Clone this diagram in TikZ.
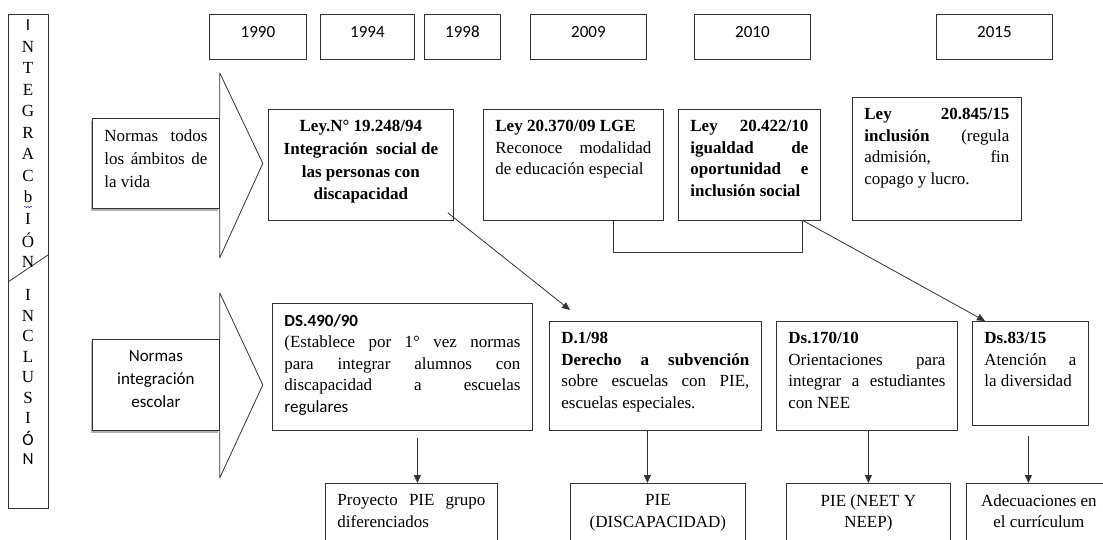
\documentclass[tikz,border=0pt]{standalone}
\usepackage{fontspec}
\setmainfont{Liberation Serif}
\newfontfamily\calfont{Carlito}
\usetikzlibrary{arrows.meta,calc,shadows,decorations.pathmorphing}
\tolerance=10000
\hbadness=10000
\newcommand{\caja}[3]{\parbox[c][#2pt][t]{#1pt}{#3}}
\tikzset{
  cuadro/.style={draw=black!80, line width=0.8pt, fill=white, anchor=north west, inner xsep=12pt, inner ysep=11pt},
  anio/.style={cuadro, inner xsep=0pt},
  sombra/.style={drop shadow={shadow xshift=-1pt,shadow yshift=-2.5pt,fill=black!60}},
  flecha/.style={draw=black!80, line width=0.8pt, -{Triangle[length=8pt,width=7pt]}},
  linea/.style={draw=black!80, line width=0.8pt, line join=round},
  letra/.style={inner sep=0pt},
}
\begin{document}
\begin{tikzpicture}[x=1pt, y=-1pt, font=\fontsize{17}{21.5}\selectfont]
\useasboundingbox (0,0) rectangle (1103,540);
\clip (0,0) rectangle (1103,540);
% barra lateral
\node[cuadro, inner sep=0pt, minimum width=40pt, minimum height=494pt] (barra) at (8,14) {};
\draw[linea] (48,255) -- (8,282);
\node[letra] (i0) at (28,25) {\calfont I};
\foreach \l [count=\i] in {N,T,E,G,R,A,C,b,I,Ó,N}
  \node[letra] (i\i) at (28,25+21.5*\i) {\l};
\draw[blue, decorate, decoration={snake,amplitude=0.8pt,segment length=3pt}] (24,207) -- (32,207);
\foreach \l [count=\i from 0] in {I,N,C,L,U,S,I}
  \node[letra] (c\i) at (28,295+20.5*\i) {\l};
\foreach \l [count=\i from 7] in {Ó,N}
  \node[letra] (c\i) at (28,295+20.5*\i) {\calfont\l};
% anios
\foreach \x/\w/\t in {209/97/1990,320/94/1994,424/76/1998,530/116/2009,694/116/2010,936/116/2015}
  \node[anio] (a\t) at (\x,14) {\caja{\w}{23}{\centering\calfont\rule{0pt}{12pt}\t}};
% flechas de la izquierda
\node[cuadro, sombra] (todos) at (92,118) {\caja{103}{68}{\fontsize{17}{23}\selectfont Normas todos\linebreak los ámbitos de\linebreak la vida}};
\node[cuadro, sombra] (escolar) at (92,339) {\caja{103}{69}{\centering\calfont\fontsize{17}{23}\selectfont Normas\\ integración\\ escolar}};
\draw[linea] (todos.north east) -- ($(todos.north east)+(0,-45)$) -- ($(todos.east)+(43,0)$) -- ($(todos.south east)+(0,49)$) -- (todos.south east);
\draw[linea] (escolar.north east) -- ($(escolar.north east)+(0,-46)$) -- ($(escolar.east)+(43,0)$) -- ($(escolar.south east)+(0,47)$) -- (escolar.south east);
% leyes
\node[cuadro] (leyA) at (268,109) {\caja{161}{89}{\centering\bfseries\fontsize{17}{22.7}\selectfont Ley.N° 19.248/94\\ Integración\ \ social de\\ las personas con\\ discapacidad}};
\node[cuadro] (leyB) at (483,109) {\caja{156}{89}{\textbf{Ley 20.370/09 LGE}\\ Reconoce modalidad\linebreak de educación especial}};
\node[cuadro] (leyC) at (678,109) {\caja{118}{89}{\bfseries Ley 20.422/10\linebreak igualdad de\linebreak oportunidad e\linebreak inclusión social}};
\node[cuadro] (leyD) at (852,97) {\caja{145}{101}{\textbf{Ley 20.845/15}\linebreak \textbf{inclusión} (regula\linebreak admisión, fin\linebreak copago y lucro.}};
% decretos
\node[cuadro] (ds490) at (272,303) {\caja{236}{105}{{\calfont\bfseries DS.490/90}\\ (Establece por 1° vez normas\linebreak para integrar alumnos con\linebreak discapacidad a escuelas\linebreak {\calfont regulares}}};
\node[cuadro] (d198) at (549,321) {\caja{188}{87}{\textbf{D.1/98}\\ \textbf{Derecho a subvención}\linebreak sobre escuelas con PIE,\linebreak escuelas especiales.}};
\node[cuadro] (ds170) at (776,321) {\caja{157}{87}{\textbf{Ds.170/10}\\ Orientaciones para\linebreak integrar a estudiantes\linebreak con NEE}};
\node[cuadro] (ds83) at (972,321) {\caja{92}{82}{\textbf{Ds.83/15}\\ Atención a\linebreak la diversidad}};
% resultados
\node[cuadro] (proy) at (325,483) {\caja{148}{48}{Proyecto PIE grupo\linebreak diferenciados}};
\node[cuadro, inner xsep=4pt] (pie) at (570,483) {\caja{167}{48}{\centering PIE\\ (DISCAPACIDAD)}};
\node[cuadro, inner xsep=4pt] (neet) at (786,483) {\caja{156}{48}{\centering PIE (NEET Y\\ NEEP)}};
\node[cuadro, inner xsep=4pt] (adec) at (966,483) {\caja{137}{48}{\centering Adecuaciones en\\ el currículum}};
% conectores
\draw[linea] ($(leyB.south)+(40,0)$) -- ++(0,32) -| ($(leyC.south)+(53,0)$);
\draw[flecha] ($(leyA.south east)+(-6,-8)$) -- ($(d198.north west)+(21,-11)$);
\draw[flecha] ($(leyC.south)+(54,0)$) -- ($(ds83.north west)+(13,0)$);
\draw[flecha] ($(ds490.south)+(15,7)$) -- ($(proy.north)+(6,0)$);
\draw[flecha] ($(d198.south)+(-8,0)$) -- ($(pie.north)+(-10.5,0)$);
\draw[flecha] ($(ds170.south)+(1.5,0)$) -- ($(neet.north)+(0,0)$);
\draw[flecha] ($(ds83.south)+(-2,10)$) -- ($(adec.north)+(-10.5,0)$);
\end{tikzpicture}
\end{document}
